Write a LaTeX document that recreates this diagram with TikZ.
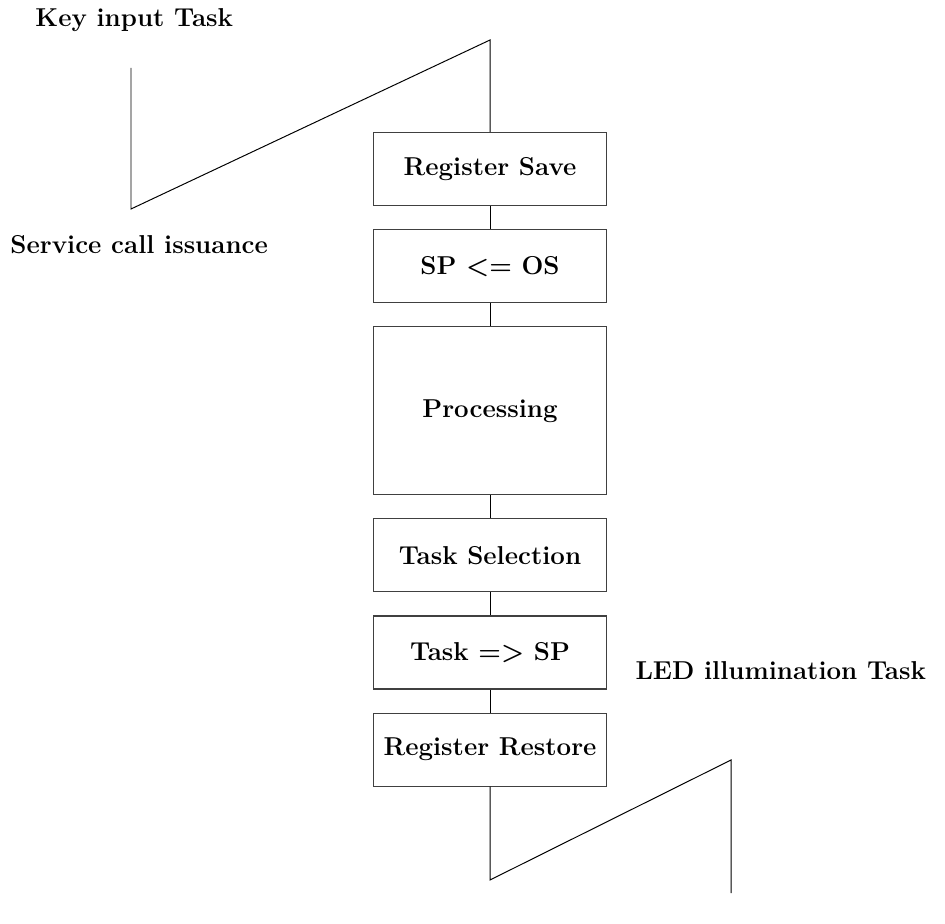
\documentclass[tikz,border=0pt]{standalone}
\usepackage{tikz}
\usetikzlibrary{chains}

\begin{document}
\begin{tikzpicture}[proc/.style={rectangle, draw=black!75, line width=0.8pt,
    minimum width=5.825cm, minimum height=1.825cm, on chain},
    lbl/.style={anchor=west, inner sep=0pt},
    font=\fontsize{18.4}{21}\selectfont\bfseries, line width=0.7pt,
    start chain=going below, node distance=0.575cm]
  \useasboundingbox (0,0) rectangle (23.625,23.075);
  \node[proc] (RS) at (12.25,18.85) {Register Save};
  \node[proc] (SP) {SP <= OS};
  \node[proc,minimum height=4.2cm] (PR) {Processing};
  \node[proc] (TS) {Task Selection};
  \node[proc] (TK) {Task => SP};
  \node[proc] (RR) {Register Restore};
  \draw (RS) -- (SP);
  \draw (SP) -- (PR);
  \draw (PR) -- (TS);
  \draw (TS) -- (TK);
  \draw (TK) -- (RR);
  % key input task
  \node[lbl] (key) at (0.875,22.575) {Key input Task};
  \node[lbl] (svc) at (0.25,16.95) {Service call issuance};
  \coordinate (k1) at (3.275,21.375);
  \coordinate (k2) at (3.275,17.85);
  \coordinate (k3) at (12.25,22.075);
  \draw (k1) -- (k2) -- (k3) -- (RS);
  % led task
  \node[lbl] (led) at (15.875,6.3) {LED illumination Task};
  \coordinate (l1) at (12.25,1.075);
  \coordinate (l2) at (18.275,4.075);
  \coordinate (l3) at (18.275,0.75);
  \draw (RR) -- (l1) -- (l2) -- (l3);
\end{tikzpicture}
\end{document}
